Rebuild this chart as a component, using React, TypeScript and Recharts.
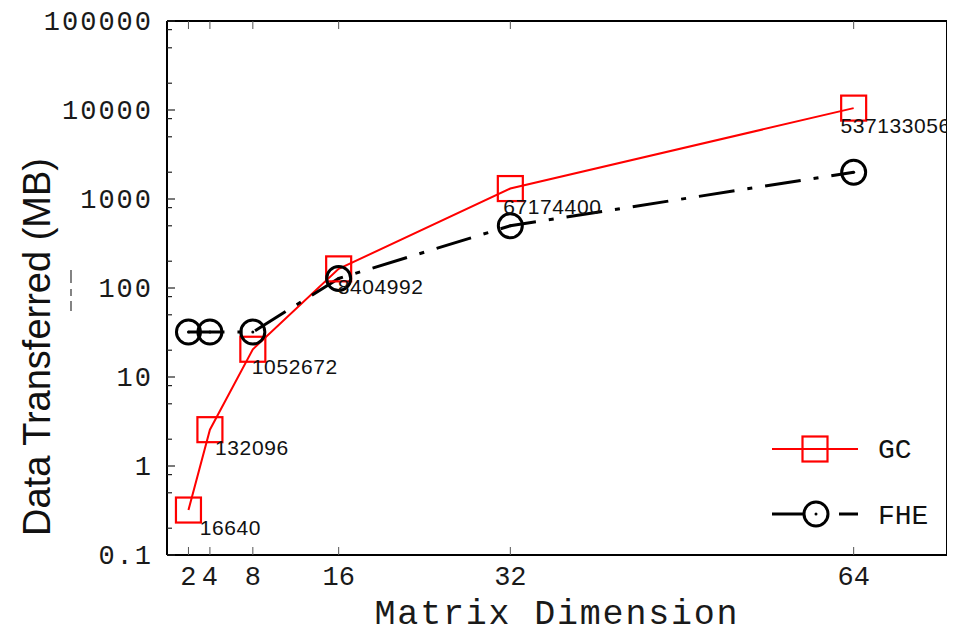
import React from 'react'
import {
  LineChart, Line, XAxis, YAxis, LabelList, Legend,
} from 'recharts'

const dims = [2, 4, 8, 16, 32, 64]
const gcMB = [0.32, 2.56, 20.5, 164, 1310, 10500]
const fheMB = [32, 32, 32, 128, 500, 2000]
const gcBytes = ['16640', '132096', '1052672', '8404992', '67174400', '537133056']

const xTicks = [2, 4, 8, 16, 32, 64]
const yMajor = [0.1, 1, 10, 100, 1000, 10000, 100000]
const yTickLabels = ['0.1', '1', '10', '100', '1000', '10000', '100000']
const yMinorSteps = [2, 5, 8]

const yTicks: number[] = []
yMajor.forEach((m, i) => {
  yTicks.push(m)
  if (i < yMajor.length - 1) yMinorSteps.forEach(s => yTicks.push(+(m * s).toPrecision(3)))
})

const data = dims.map((d, i) => ({ dim: d, gc: gcMB[i], fhe: fheMB[i], bytes: gcBytes[i] }))

const MONO = '"Liberation Mono", "DejaVu Sans Mono", monospace'
const SANS = '"Liberation Sans", Arial, sans-serif'
const RED = '#ff0000'
const FHE_DASH = '36 13 5 13'

const isMajor = (v: number) => yMajor.some(m => Math.abs(m - v) / m < 1e-6)
const majorLabel = (v: number) => yTickLabels[yMajor.findIndex(m => Math.abs(m - v) / m < 1e-6)]

const LeftTick = (p: any) => {
  const v = p.payload.value
  const major = isMajor(v)
  return (
    <g>
      <line x1={p.x} x2={p.x + (major ? 8 : 5)} y1={p.y} y2={p.y} stroke="#222" strokeWidth={1.2} />
      {major && (
        <text x={p.x - 14} y={p.y + 9} textAnchor="end" fontFamily={MONO} fontSize={27}
          letterSpacing={2} fill="#1a1a1a">{majorLabel(v)}</text>
      )}
    </g>
  )
}

const RightTick = (p: any) => {
  const major = isMajor(p.payload.value)
  return <line x1={p.x} x2={p.x - (major ? 8 : 5)} y1={p.y} y2={p.y} stroke="#222" strokeWidth={1.2} />
}

const BottomTick = (p: any) => (
  <g>
    <line x1={p.x} x2={p.x} y1={p.y} y2={p.y - 8} stroke="#555" strokeWidth={1} />
    <text x={p.x} y={p.y + 30} textAnchor="middle" fontFamily={MONO} fontSize={27}
      fill="#1a1a1a">{p.payload.value}</text>
  </g>
)

const TopTick = (p: any) => (
  <line x1={p.x} x2={p.x} y1={p.y} y2={p.y + 8} stroke="#555" strokeWidth={1} />
)

const Square = (p: any) => (
  <g key={`sq${p.index}`}>
    <rect x={p.cx - 12.5} y={p.cy - 12.5} width={25} height={25} fill="none" stroke={RED} strokeWidth={2.2} />
  </g>
)

const Circle = (p: any) => (
  <g key={`ci${p.index}`}>
    <circle cx={p.cx} cy={p.cy} r={12} fill="none" stroke="#000" strokeWidth={3} />
    <circle cx={p.cx} cy={p.cy} r={1.5} fill="#000" />
  </g>
)

const BytesLabel = (p: any) => (
  <text x={p.x + 42} y={p.y + 25} textAnchor="middle" fontFamily={SANS} fontSize={21}
    letterSpacing={0.6} fill="#111">{p.value}</text>
)

const LegendBox = () => (
  <svg width={190} height={110}>
    <line x1={4} x2={90} y1={24} y2={24} stroke={RED} strokeWidth={2} />
    <rect x={34.5} y={11.5} width={25} height={25} fill="none" stroke={RED} strokeWidth={2.2} />
    <text x={110} y={33} fontFamily={MONO} fontSize={28} fill="#111">GC</text>
    <line x1={4} x2={90} y1={89} y2={89} stroke="#000" strokeWidth={3} strokeDasharray={FHE_DASH} />
    <circle cx={48} cy={89} r={12} fill="#fff" stroke="#000" strokeWidth={3} />
    <circle cx={48} cy={89} r={1.5} fill="#000" />
    <text x={110} y={99} fontFamily={MONO} fontSize={28} fill="#111">FHE</text>
  </svg>
)

export default function App() {
  return (
    <div style={{ position: 'relative', width: 947, height: 626 }}>
      <LineChart width={947} height={626} data={data} margin={{ top: 0, right: 0, bottom: 0, left: 0 }}
        style={{ overflow: 'visible' }}>
        <XAxis xAxisId="b" dataKey="dim" type="number" domain={[0, 72.7]} ticks={xTicks}
          orientation="bottom" height={79} tickSize={0} tickMargin={0} tickLine={false}
          axisLine={{ stroke: '#000', strokeWidth: 2 }} tick={<BottomTick />}
          label={{
            content: () => (
              <text x={549} y={616} textAnchor="middle" fontFamily={MONO} fontSize={35}
                letterSpacing={1.8} fill="#1a1a1a">Matrix Dimension</text>
            ),
          }} />
        <XAxis xAxisId="t" dataKey="dim" type="number" domain={[0, 72.7]} ticks={xTicks}
          orientation="top" height={13} tickSize={0} tickMargin={0} tickLine={false}
          axisLine={{ stroke: '#000', strokeWidth: 2 }} tick={<TopTick />} />
        <YAxis yAxisId="l" scale="log" domain={[0.1, 100000]} ticks={yTicks}
          width={159} tickSize={0} tickMargin={0} tickLine={false} interval={0}
          axisLine={{ stroke: '#000', strokeWidth: 2 }} tick={<LeftTick />}
          label={{
            content: () => (
              <text x={42} y={339} transform="rotate(-90, 42, 339)" textAnchor="middle"
                fontFamily={SANS} fontSize={38} fill="#111">Data Transferred (MB)</text>
            ),
          }} />
        <YAxis yAxisId="r" orientation="right" scale="log" domain={[0.1, 100000]} ticks={yTicks}
          width={8} tickSize={0} tickMargin={0} tickLine={false} interval={0}
          axisLine={{ stroke: '#000', strokeWidth: 2 }} tick={<RightTick />} />
        <Line xAxisId="b" yAxisId="l" dataKey="gc" stroke={RED} strokeWidth={2} dot={<Square />}
          isAnimationActive={false} activeDot={false}>
          <LabelList dataKey="bytes" content={<BytesLabel />} />
        </Line>
        <Line xAxisId="b" yAxisId="l" dataKey="fhe" stroke="#000" strokeWidth={3}
          strokeDasharray={FHE_DASH} dot={<Circle />} isAnimationActive={false} activeDot={false} />
        <Legend layout="vertical" align="center" verticalAlign="middle" content={<LegendBox />}
          wrapperStyle={{ left: 760, top: 417, width: 190, height: 110 }} />
      </LineChart>
      {/* stray dashed mark next to the y title */}
      <svg style={{ position: 'absolute', left: 60, top: 260 }} width={8} height={45}>
        <line x1={3} x2={3} y1={2} y2={43} stroke="#333" strokeWidth={1.2} strokeDasharray="13 6 7 5" />
      </svg>
    </div>
  )
}
